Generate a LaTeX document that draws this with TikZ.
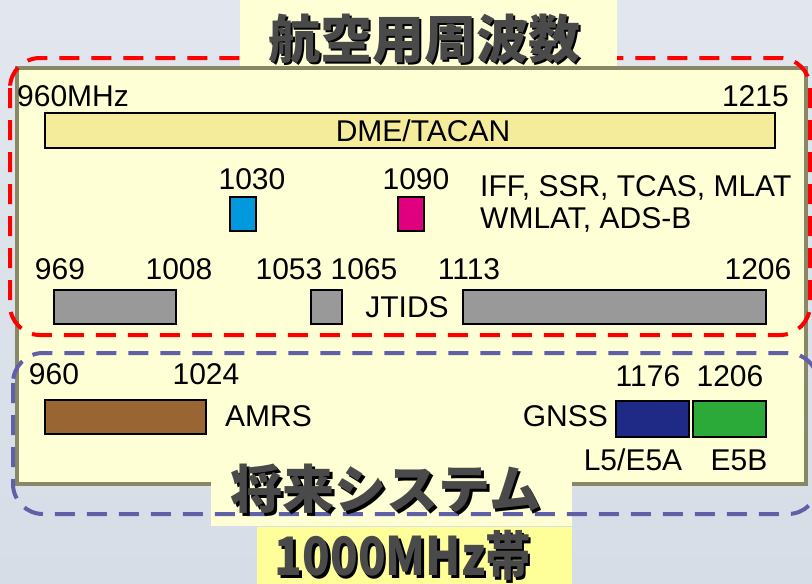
\documentclass[tikz,border=0pt]{standalone}
\usepackage{fontspec}
\setmainfont{Liberation Sans}
\newfontfamily\cjk{Noto Sans CJK JP}
\newfontfamily\cjknarrow{Noto Sans CJK JP}[FakeStretch=0.86]
\definecolor{bgtop}{HTML}{E2E7EF}
\definecolor{bgbot}{HTML}{D6DDE6}
\definecolor{panel}{HTML}{FFFFD6}
\definecolor{panelline}{HTML}{888866}
\definecolor{dmefill}{HTML}{F5EC9B}
\definecolor{cyanbox}{HTML}{0099DD}
\definecolor{magbox}{HTML}{E0007F}
\definecolor{graybox}{HTML}{999999}
\definecolor{brownbox}{HTML}{996633}
\definecolor{navybox}{HTML}{1E2A86}
\definecolor{greenbox}{HTML}{2BAA3A}
\definecolor{redline}{HTML}{FF0000}
\definecolor{blueline}{HTML}{6060A8}
\definecolor{titletext}{HTML}{4A4A4A}
\definecolor{bandbox}{HTML}{FFFF99}
\newcommand\shtext[1]{\makebox[0pt][l]{\hspace{2.5pt}\raisebox{-2.5pt}{\color{black}#1}}{\color{titletext}#1}}
\tikzset{
  band/.style={draw=black, line width=1.5pt},
  lbl/.style={font=\fontsize{30}{30}\selectfont, inner sep=0pt, text=black},
  bigcjk/.style={font=\cjk\bfseries\fontsize{52}{52}\selectfont, inner sep=0pt},
  dashred/.style={draw=redline, line width=4pt, dash pattern=on 20pt off 12pt, rounded corners=30pt},
  dashblue/.style={draw=blueline, line width=4pt, dash pattern=on 20pt off 12pt, rounded corners=30pt},
}
\begin{document}
\begin{tikzpicture}[x=1pt,y=-1pt]
\useasboundingbox (0,0) rectangle (812,584);
\shade[top color=bgtop, bottom color=bgbot] (0,0) rectangle (812,584);
% main panel
\draw[fill=panel, draw=panelline, line width=4pt] (17,68) rectangle (806,484);
% red dashed region
\draw[dashred] (10,58) rectangle (810,335);
% title box
\fill[panel] (240,0) rectangle (617,66);
\node[bigcjk] (title) at (424,40) {\shtext{航空用周波数}};
% top labels
\node[lbl, anchor=base west] (f960) at (17,106) {960MHz};
\node[lbl, anchor=base east] (f1215) at (789,106) {1215};
\draw[band, fill=dmefill] (45,113) rectangle (775,148);
\node[lbl] (dme) at (423,131) {DME/TACAN};
\node[lbl, anchor=base] (f1030) at (252,189) {1030};
\node[lbl, anchor=base] (f1090) at (416,189) {1090};
\draw[band, fill=cyanbox] (230,197) rectangle (256,231);
\draw[band, fill=magbox] (398,197) rectangle (424,231);
\node[lbl, anchor=base west] (iff) at (480,196) {IFF, SSR, TCAS, MLAT};
\node[lbl, anchor=base west] (wml) at (480,228) {WMLAT, ADS-B};
% JTIDS row
\node[lbl, anchor=base] (f969) at (60,279) {969};
\node[lbl, anchor=base] (f1008) at (179,279) {1008};
\node[lbl, anchor=base] (f1053) at (289,279) {1053};
\node[lbl, anchor=base] (f1065) at (364,279) {1065};
\node[lbl, anchor=base] (f1113) at (469,279) {1113};
\node[lbl, anchor=base] (f1206a) at (758,279) {1206};
\draw[band, fill=graybox] (54,290) rectangle (176,324);
\draw[band, fill=graybox] (311,290) rectangle (342,324);
\draw[band, fill=graybox] (463,290) rectangle (766,324);
\node[lbl] (jtids) at (407,307) {JTIDS};
% future systems
\node[lbl, anchor=base] (g960) at (54,384) {960};
\node[lbl, anchor=base] (g1024) at (206,384) {1024};
\node[lbl, anchor=base] (g1176) at (648,386) {1176};
\node[lbl, anchor=base] (g1206) at (730,386) {1206};
\draw[band, fill=brownbox] (45,400) rectangle (206,434);
\node[lbl, anchor=west] (amrs) at (225,416) {AMRS};
\node[lbl, anchor=east] (gnss) at (608,416) {GNSS};
\draw[band, fill=navybox] (616,401) rectangle (689,437);
\draw[band, fill=greenbox] (693,401) rectangle (766,437);
\node[lbl, anchor=base] (l5) at (633,470) {L5/E5A};
\node[lbl, anchor=base] (e5b) at (739,470) {E5B};
% future box
\fill[panel] (211,455) rectangle (572,526);
\draw[dashblue] (13,353) rectangle (818,514);
\node[bigcjk] (future) at (386,490) {\shtext{将来システム}};
% band box
\fill[bandbox] (257,527) rectangle (572,584);
\node[bigcjk, font=\cjknarrow\bfseries\fontsize{53}{53}\selectfont] (band) at (403,557) {\shtext{1000MHz帯}};
\end{tikzpicture}
\end{document}
